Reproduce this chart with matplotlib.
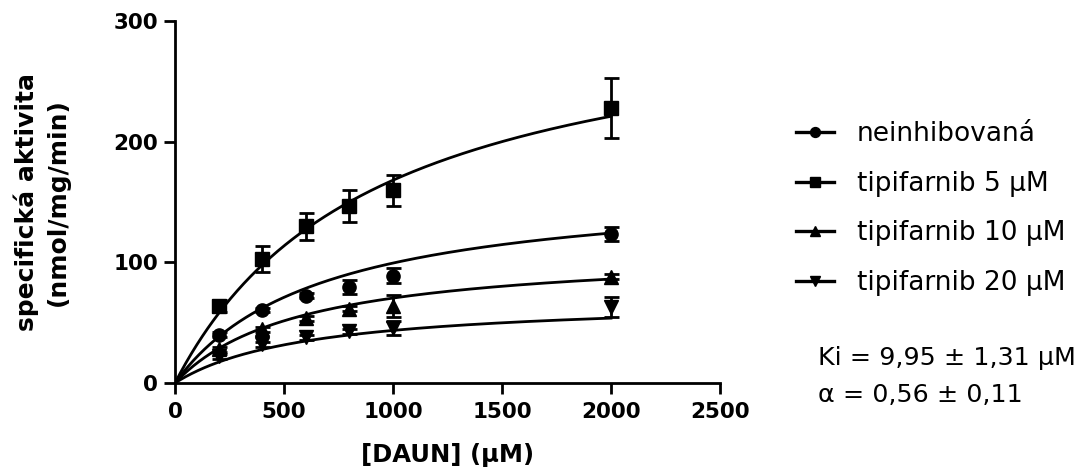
import numpy as np
import matplotlib
matplotlib.use("Agg")
import matplotlib.pyplot as plt
from matplotlib.lines import Line2D

plt.rcParams['font.family'] = ['DejaVu Sans']

# ---- data ----
daun = [200, 400, 600, 800, 1000, 2000]

labels = ["neinhibovaná", "tipifarnib 5 μM", "tipifarnib 10 μM", "tipifarnib 20 μM"]
markers = ["o", "s", "^", "v"]

neinhib = [40, 60.5, 72.5, 79.5, 89, 123.5]
neinhib_err = [2, 2, 2, 6, 6, 6]

tip5 = [63.5, 102.5, 129.8, 146.7, 159.7, 228]
tip5_err = [5, 10.8, 11, 13, 13, 25]

tip10 = [28, 44.5, 53.5, 61.5, 64, 88]
tip10_err = [2, 2, 2, 2, 9, 2]

tip20 = [22, 32, 38, 42.8, 45.6, 63]
tip20_err = [2, 2, 2, 2, 6, 8]

# fitted Michaelis-Menten parameters (Vmax, Km) for each curve
vmax = [165.7, 322.7, 111.0, 70.2]
km = [667, 920, 577, 611]

series = [neinhib, tip5, tip10, tip20]
errors = [neinhib_err, tip5_err, tip10_err, tip20_err]

xticks = [0, 500, 1000, 1500, 2000, 2500]
yticks = [0, 100, 200, 300]

# ---- figure ----
W, H = 1081, 471
fig = plt.figure(figsize=(W / 100, H / 100), dpi=100)
ax = fig.add_axes([175 / W, 1 - 383 / H, 545 / W, 362 / H])

lw = 2.0
msizes = [9.5, 10.0, 10.5, 10.5]
handles = []
s_curve = np.linspace(0, 2000, 400)
for y, e, m, ms, V, K, lab in zip(series, errors, markers, msizes, vmax, km, labels):
    ax.plot(s_curve, V * s_curve / (K + s_curve), color="black", lw=lw, zorder=2)
    ax.errorbar(daun, y, yerr=e, fmt=m, color="black", ms=ms, elinewidth=lw,
                capsize=5.4, capthick=lw, zorder=3)
    handles.append(Line2D([], [], color="black", lw=2.4, marker=m, ms=ms * 0.75, label=lab))

ax.set_xlim(0, 2500)
ax.set_ylim(0, 300)
ax.set_xticks(xticks)
ax.set_yticks(yticks)
for sp in ["top", "right"]:
    ax.spines[sp].set_visible(False)
for sp in ["left", "bottom"]:
    ax.spines[sp].set_linewidth(lw)
ax.tick_params(direction="out", length=8, width=lw, labelsize=15.5, color="black")
ax.tick_params(axis="x", pad=6)
ax.tick_params(axis="y", pad=4)
for t in ax.get_xticklabels() + ax.get_yticklabels():
    t.set_fontweight("bold")

ax.set_xlabel("[DAUN] (μM)", fontsize=17.5, fontweight="bold")
ax.xaxis.set_label_coords(0.5, -0.165)
ax.set_ylabel("specifická aktivita\n(nmol/mg/min)", fontsize=18, fontweight="bold",
              linespacing=1.36)
ax.yaxis.set_label_coords(-0.193, 0.5)

leg = fig.legend(handles=handles, loc="upper left",
                 bbox_to_anchor=(796 / W, 1 - 121 / H), frameon=False,
                 fontsize=19, handlelength=1.45, handletextpad=0.85,
                 labelspacing=0.9, borderpad=0, borderaxespad=0)

fig.text(818 / W, 1 - 358 / H, "Ki = 9,95 ± 1,31 μM", fontsize=18.3, va="center", ha="left")
fig.text(818 / W, 1 - 395 / H, "α = 0,56 ± 0,11", fontsize=18.3, va="center", ha="left")

fig.savefig("out.png", dpi=100)
